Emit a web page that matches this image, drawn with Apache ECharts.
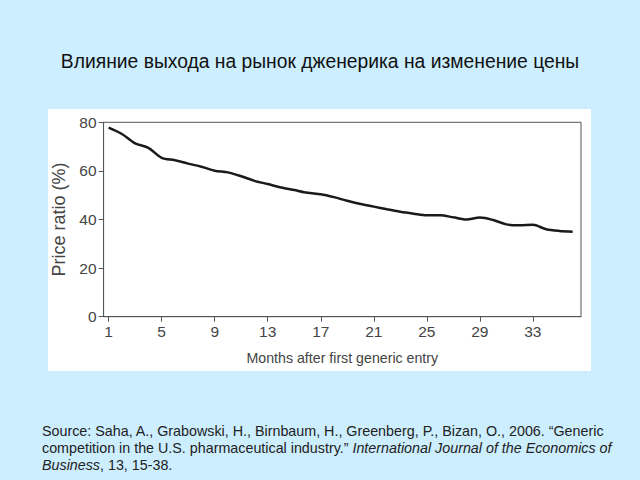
<!DOCTYPE html>
<html><head><meta charset="utf-8">
<script src="https://cdn.jsdelivr.net/npm/echarts@6/dist/echarts.min.js"></script>
<style>html,body{margin:0;padding:0;background:#cceeff;}#c{width:640px;height:480px;}</style>
</head><body><div id="c"></div>
<script>
var months = [1,2,3,4,5,6,7,8,9,10,11,12,13,14,15,16,17,18,19,20,21,22,23,24,25,26,27,28,29,30,31,32,33,34,35,36];
var priceRatio = [77.8,75.2,71.3,69.5,65.4,64.4,63.0,61.7,60.1,59.4,57.8,55.9,54.6,53.2,52.1,51.0,50.4,49.2,47.7,46.4,45.3,44.2,43.2,42.4,41.7,41.7,40.9,40.0,40.8,39.8,38.0,37.6,37.8,36.0,35.3,35.0];
var xTicks = [1,5,9,13,17,21,25,29,33];
var yTicks = [0,20,40,60,80];

var title = 'Влияние выхода на рынок дженерика на изменение цены';
var xName = 'Months after first generic entry';
var yName = 'Price ratio (%)';

var chart = echarts.init(document.getElementById('c'), null, {renderer:'svg'});
var axisFont = "'Liberation Sans Narrow','Liberation Sans',Arial,sans-serif";
var option = {
  backgroundColor: '#cceeff',
  animation: false,
  title: {
    text: title, left: 'center', top: 47,
    textStyle: {fontFamily: "'Liberation Sans',Arial,sans-serif", fontSize: 19.3, fontWeight: 'normal', color: '#111'}
  },
  graphic: [
    {type:'rect', z:-100, silent:true, shape:{x:48,y:109,width:543,height:262}, style:{fill:'#ffffff'}},
    {type:'text', left: 42, top: 422, silent:true,
     style:{
       text: 'Source: Saha, A., Grabowski, H., Birnbaum, H., Greenberg, P., Bizan, O., 2006. “Generic\ncompetition in the U.S. pharmaceutical industry.” {i|International Journal of the Economics of}\n{i|Business}, 13, 15-38.',
       fontFamily: "'Liberation Sans',Arial,sans-serif", fontSize: 14.3, lineHeight: 17, fill:'#222',
       rich: {i:{fontStyle:'italic', fontFamily:"'Liberation Sans',Arial,sans-serif", fontSize:14.3, lineHeight:17, fill:'#222'}}
     }}
  ],
  grid: {left: 103.6, right: 59, top: 122.3, bottom: 163.3, show: true, borderColor: '#555', borderWidth: 1, backgroundColor: 'transparent'},
  xAxis: {
    type: 'value', min: 0.62, max: 36.63,
    name: xName, nameLocation: 'middle', nameGap: 34,
    nameTextStyle: {fontFamily: axisFont, fontSize: 14.2, color: '#444'},
    axisLine: {show: true, lineStyle: {color: '#555'}},
    axisTick: {show: true, customValues: xTicks, length: 5, lineStyle: {color: '#555'}},
    axisLabel: {customValues: xTicks, fontFamily: axisFont, fontSize: 15.5, color: '#444', margin: 7},
    splitLine: {show: false}
  },
  yAxis: {
    type: 'value', min: 0, max: 80, interval: 20,
    name: yName, nameLocation: 'middle', nameGap: 34,
    nameTextStyle: {fontFamily: "'Liberation Sans',Arial,sans-serif", fontSize: 18, color: '#444'},
    axisLine: {show: true, lineStyle: {color: '#555'}},
    axisTick: {show: true, length: 5, lineStyle: {color: '#555'}},
    axisLabel: {fontFamily: axisFont, fontSize: 15.5, color: '#444', margin: 7},
    splitLine: {show: false}
  },
  series: [{
    type: 'line', data: months.map(function(m,i){return [m, priceRatio[i]];}),
    showSymbol: false, smooth: 0.3,
    lineStyle: {color: '#1a1a1a', width: 2.5}
  }]
};
chart.setOption(option);
</script></body></html>
